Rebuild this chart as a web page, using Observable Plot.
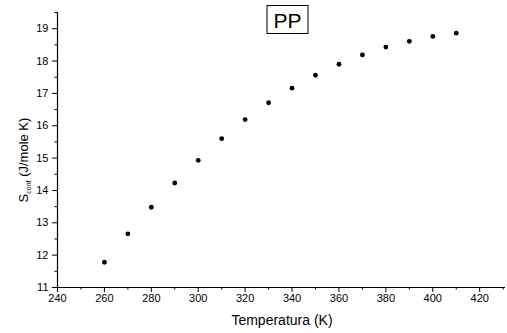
<!DOCTYPE html>
<html>
<head>
<meta charset="utf-8">
<script src="https://cdn.jsdelivr.net/npm/d3@7"></script>
<script src="https://cdn.jsdelivr.net/npm/@observablehq/plot@0.6"></script>
<style>
  html, body { margin: 0; padding: 0; background: #fff; }
  #chart { width: 507px; height: 333px; }
</style>
</head>
<body>
<div id="chart"></div>
<script>
const temperature = [260, 270, 280, 290, 300, 310, 320, 330, 340, 350, 360, 370, 380, 390, 400, 410];
const sconf = [11.78, 12.66, 13.48, 14.23, 14.93, 15.60, 16.19, 16.71, 17.16, 17.56, 17.90, 18.19, 18.43, 18.61, 18.76, 18.86];
const xMajorTicks = [240, 260, 280, 300, 320, 340, 360, 380, 400, 420];
const xMinorTicks = [250, 270, 290, 310, 330, 350, 370, 390, 410, 430];
const yMajorTicks = [11, 12, 13, 14, 15, 16, 17, 18, 19];
const yMinorTicks = [11.5, 12.5, 13.5, 14.5, 15.5, 16.5, 17.5, 18.5, 19.5];
const titleText = "PP";
const xLabel = "Temperatura (K)";

const data = temperature.map((t, i) => ({t, s: sconf[i]}));

const plot = Plot.plot({
  width: 507,
  height: 333,
  marginLeft: 57,
  marginRight: 2,
  marginTop: 12,
  marginBottom: 46,
  style: {fontFamily: "'Liberation Sans', Arial, sans-serif", fontSize: "11px", color: "#000", background: "#fff"},
  x: {domain: [240, 431]},
  y: {domain: [11, 19.5]},
  marks: [
    Plot.axisX({ticks: xMajorTicks, tickSize: 5, tickPadding: 2, label: null, fontSize: 11}),
    Plot.axisX({ticks: xMinorTicks, tickSize: 2.5, tickFormat: () => "", label: null}),
    Plot.axisY({ticks: yMajorTicks, tickSize: 5, tickPadding: 4, label: null, fontSize: 11}),
    Plot.axisY({ticks: yMinorTicks, tickSize: 2.5, tickFormat: () => "", label: null}),
    Plot.ruleY([11], {stroke: "#000", strokeWidth: 1.2}),
    Plot.ruleX([240], {stroke: "#000", strokeWidth: 1.2}),
    Plot.dot(data, {x: "t", y: "s", r: 2.4, fill: "#000", stroke: "none"})
  ]
});

document.getElementById("chart").appendChild(plot);

const svg = d3.select(plot);
// x label
svg.append("text")
  .attr("x", 282)
  .attr("y", 325)
  .attr("text-anchor", "middle")
  .style("font-family", "'Liberation Sans', Arial, sans-serif")
  .style("font-size", "14px")
  .text(xLabel);

// y label with subscript
const yl = svg.append("text")
  .attr("transform", "translate(28,160) rotate(-90)")
  .attr("text-anchor", "middle")
  .style("font-family", "'Liberation Sans', Arial, sans-serif")
  .style("font-size", "13px");
yl.append("tspan").text("S");
yl.append("tspan").attr("dy", 3).style("font-size", "7px").text("conf");
yl.append("tspan").attr("dy", -3).text(" (J/mole K)");

// title box
const tg = svg.append("g");
tg.append("rect")
  .attr("x", 267)
  .attr("y", 5.5)
  .attr("width", 41)
  .attr("height", 28)
  .attr("fill", "#fff")
  .attr("stroke", "#000")
  .attr("stroke-width", 1);
tg.append("text")
  .attr("x", 287.5)
  .attr("y", 28)
  .attr("text-anchor", "middle")
  .style("font-family", "'Liberation Sans', Arial, sans-serif")
  .style("font-size", "21px")
  .text(titleText);
</script>
</body>
</html>
